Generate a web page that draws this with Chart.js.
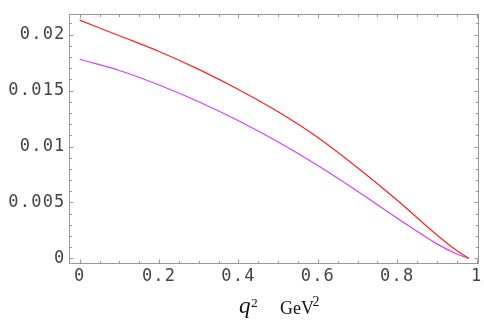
<!DOCTYPE html>
<html>
<head>
<meta charset="utf-8">
<script src="https://cdn.jsdelivr.net/npm/chart.js@4/dist/chart.umd.min.js"></script>
<style>
  html, body { margin: 0; padding: 0; background: #fff; }
  #wrap { width: 484px; height: 321px; }
</style>
</head>
<body>
<div id="wrap"><canvas id="ff-chart" width="484" height="321"></canvas></div>
<script>
// q^2 values (GeV^2) and the two curves
const q2Values = [0, 0.1, 0.2, 0.3, 0.4, 0.5, 0.6, 0.7, 0.8, 0.9, 0.95, 0.98];
const redValues = [0.0213, 0.0199, 0.0185, 0.0169, 0.0151, 0.0131, 0.0108, 0.0081, 0.0052, 0.0021, 0.0007, 0.0];
const magentaValues = [0.0178, 0.0168, 0.0155, 0.0140, 0.0123, 0.0104, 0.0083, 0.0060, 0.0036, 0.0013, 0.0004, 0.0];

const xTickValues = [0, 0.2, 0.4, 0.6, 0.8, 1];
const yTickValues = [0, 0.005, 0.01, 0.015, 0.02];

const X_MIN = -0.0257, X_MAX = 1.006;
const Y_MIN = -0.0005, Y_MAX = 0.02183;

const tickFont = { family: '"DejaVu Sans Mono", monospace', size: 17 };

// frame with inward major/minor ticks on all four sides, plus the axis label
const framePlugin = {
  id: "frame",
  beforeDraw(chart) {
    chart.ctx.letterSpacing = "1.2px";
  },
  afterDraw(chart) {
    const { ctx, chartArea: a, scales: { x, y } } = chart;
    ctx.save();
    ctx.letterSpacing = "0px";
    ctx.strokeStyle = "#999";
    ctx.lineWidth = 1;
    const L = Math.round(a.left) - 0.5, R = Math.round(a.right) - 0.5;
    const T = Math.round(a.top) + 0.5, B = Math.round(a.bottom) - 0.5;
    ctx.strokeRect(L, T, R - L, B - T);

    ctx.beginPath();
    for (let i = -1; i <= 22; i++) {
      const v = i * 0.001;
      if (v < Y_MIN || v > Y_MAX) continue;
      const len = i % 5 === 0 ? 4 : 2.5;
      const py = Math.round(y.getPixelForValue(v)) + 0.5;
      ctx.moveTo(L, py); ctx.lineTo(L + len, py);
      ctx.moveTo(R, py); ctx.lineTo(R - len, py);
    }
    for (let i = 0; i <= 20; i++) {
      const v = i * 0.05;
      if (v < X_MIN || v > X_MAX) continue;
      const len = i % 4 === 0 ? 4 : 2.5;
      const px = Math.round(x.getPixelForValue(v)) + 0.5;
      ctx.moveTo(px, B); ctx.lineTo(px, B - len);
      ctx.moveTo(px, T); ctx.lineTo(px, T + len);
    }
    ctx.stroke();

    // axis label: q^2   GeV^2
    ctx.fillStyle = "#111";
    ctx.textBaseline = "alphabetic";
    ctx.font = 'italic 23px "Liberation Serif", serif';
    ctx.fillText("q", 239, 313);
    ctx.font = '13.5px "Liberation Serif", serif';
    ctx.fillText("2", 251, 306.5);
    ctx.font = '18px "Liberation Serif", serif';
    ctx.fillText("GeV", 280, 313.5);
    ctx.font = '14px "Liberation Serif", serif';
    ctx.fillText("2", 312.5, 305.5);
    ctx.restore();
  }
};

const chart = new Chart(document.getElementById("ff-chart"), {
  type: "line",
  data: {
    datasets: [
      {
        label: "red",
        data: q2Values.map((q, i) => ({ x: q, y: redValues[i] })),
        borderColor: "#ff2020",
        borderWidth: 1.2,
        pointRadius: 0,
        cubicInterpolationMode: "monotone",
        fill: false
      },
      {
        label: "magenta",
        data: q2Values.map((q, i) => ({ x: q, y: magentaValues[i] })),
        borderColor: "#d83cff",
        borderWidth: 1.2,
        pointRadius: 0,
        cubicInterpolationMode: "monotone",
        fill: false
      }
    ]
  },
  options: {
    responsive: false,
    animation: false,
    layout: { padding: { top: 12, right: 5, left: 0, bottom: 0 } },
    plugins: {
      legend: { display: false },
      tooltip: { enabled: false }
    },
    scales: {
      x: {
        type: "linear",
        min: X_MIN,
        max: X_MAX,
        afterBuildTicks: s => { s.ticks = xTickValues.map(v => ({ value: v })); },
        afterFit: s => { s.height = 57; },
        grid: { display: false, drawTicks: false },
        border: { display: false },
        ticks: {
          font: tickFont,
          color: "#444",
          padding: 2,
          maxRotation: 0,
          autoSkip: false,
          callback: v => String(v)
        }
      },
      y: {
        type: "linear",
        min: Y_MIN,
        max: Y_MAX,
        afterBuildTicks: s => { s.ticks = yTickValues.map(v => ({ value: v })); },
        afterFit: s => { s.width = 69.5; },
        grid: { display: false, drawTicks: false },
        border: { display: false },
        ticks: {
          font: tickFont,
          color: "#444",
          padding: 4,
          autoSkip: false,
          callback: v => String(v)
        }
      }
    }
  },
  plugins: [framePlugin]
});
</script>
</body>
</html>
